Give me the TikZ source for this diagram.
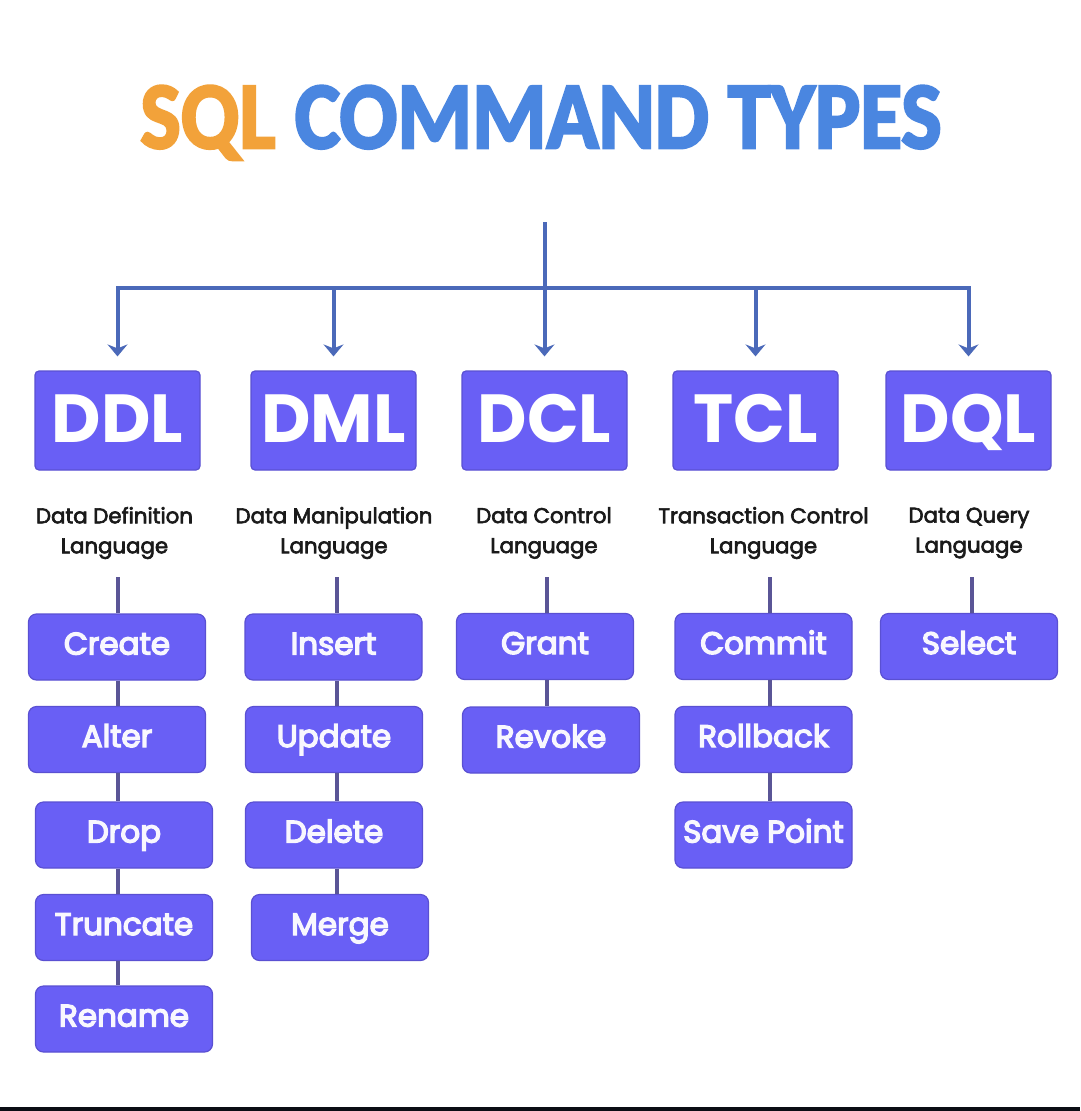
\documentclass[tikz,border=0pt]{standalone}
\usepackage{fontspec}
\setmainfont{Poppins}
\newfontfamily\titlefont[BoldFeatures={FakeBold=3}]{Carlito}
\newfontfamily\descfont[FakeBold=3]{Poppins}
\newfontfamily\itemfont[FakeBold=4.5]{Poppins}
\usetikzlibrary{arrows.meta}
\definecolor{boxblue}{HTML}{695FF5}
\definecolor{boxedge}{HTML}{5A50D2}
\definecolor{feedblue}{HTML}{4B69B9}
\definecolor{stemgray}{HTML}{5A5596}
\definecolor{sqlorange}{HTML}{F2A23A}
\definecolor{titleblue}{HTML}{4A86E0}
\definecolor{desctext}{HTML}{1A1A1A}
\definecolor{barblack}{HTML}{0B0D14}
\tikzset{>={Stealth[length=12pt,width=20pt,inset=4pt]}}
\tikzset{
  cmdbox/.style={draw=boxedge, fill=boxblue, line width=1.2pt, rounded corners=4pt,
    minimum width=165pt, minimum height=99pt, inner sep=0pt, text=white,
    text height=47pt, text depth=3pt, font=\fontsize{68}{68}\selectfont\bfseries},
  itembox/.style={draw=boxedge, fill=boxblue, line width=1.2pt, rounded corners=8pt,
    minimum width=177pt, minimum height=66pt, inner sep=0pt, text=white!95!boxblue,
    text height=21pt, text depth=6pt, font=\fontsize{31}{31}\selectfont\itemfont},
  desc/.style={align=center, inner sep=0pt, text=desctext, font=\fontsize{21.3}{30}\selectfont\descfont},
  feed/.style={line width=4pt, draw=feedblue, ->, shorten >=14pt},
  stem/.style={line width=4pt, draw=stemgray},
}

\begin{document}
\begin{tikzpicture}[x=1pt,y=-1pt]
    \useasboundingbox (0,0) rectangle (1080,1111);
    \fill[white] (0,0) rectangle (1080,1111);
    \fill[barblack] (0,1107) rectangle (1080,1111);

    \node[anchor=base, inner sep=0pt, xscale=0.9, font=\fontsize{95}{95}\selectfont\titlefont\bfseries] (title) at (541,148)
      {\textcolor{sqlorange}{SQL} \textcolor{titleblue}{COMMAND TYPES}};

    % command groups
    \node[cmdbox] at (117.5,420.5) (ddl) {DDL};
    \node[cmdbox] at (333.5,420.5) (dml) {DML};
    \node[cmdbox] at (544.5,420.5) (dcl) {DCL};
    \node[cmdbox] at (755.5,420.5) (tcl) {TCL};
    \node[cmdbox] at (968.5,420.5) (dql) {DQL};

    \coordinate (src) at (dcl.north |- 0,222);
    \coordinate (hub) at (dcl.north |- 0,288);
    \draw[feed] (src) -- (dcl.north);
    \draw[feed] (hub) -| (ddl.north);
    \draw[feed] (hub) -| (dql.north);
    \draw[feed] (hub -| dml.north) -- (dml.north);
    \draw[feed] (hub -| tcl.north) -- (tcl.north);

    \node[desc] at (114.5,533) (ddltxt) {Data Definition\\Language};
    \node[desc] at (334,533)   (dmltxt) {Data Manipulation\\Language};
    \node[desc] at (544,533)   (dcltxt) {Data Control\\Language};
    \node[desc] at (763.5,533) (tcltxt) {Transaction Control\\Language};
    \node[desc] at (969,533)   (dqltxt) {Data Query\\Language};

    % commands
    \node[itembox] at (117,647)    (create) {Create};
    \node[itembox] at (117,739.5)  (alter) {Alter};
    \node[itembox] at (124,835)    (drop) {Drop};
    \node[itembox] at (124,927.5)  (truncate) {Truncate};
    \node[itembox] at (124,1019)   (rename) {Rename};

    \node[itembox] at (333.5,647)  (insert) {Insert};
    \node[itembox] at (334,739.5)  (update) {Update};
    \node[itembox] at (334,835)    (delete) {Delete};
    \node[itembox] at (340,927.5)  (merge) {Merge};

    \node[itembox] at (545,646.5)  (grant) {Grant};
    \node[itembox] at (551,740)    (revoke) {Revoke};

    \node[itembox] at (763.5,646.5) (commit) {Commit};
    \node[itembox] at (763.5,739.5) (rollback) {Rollback};
    \node[itembox] at (763.5,835)   (savepoint) {Save Point};

    \node[itembox] at (969,646.5)  (select) {Select};

    % stems
    \coordinate (c1) at (118,577);
    \coordinate (c2) at (337,577);
    \coordinate (c3) at (547,577);
    \coordinate (c4) at (770,577);
    \coordinate (c5) at (972,577);
    \draw[stem] (c1) -- (c1 |- create.north);
    \draw[stem] (c2) -- (c2 |- insert.north);
    \draw[stem] (c3) -- (c3 |- grant.north);
    \draw[stem] (c4) -- (c4 |- commit.north);
    \draw[stem] (c5) -- (c5 |- select.north);
    \foreach \a/\b in {create/alter, alter/drop, drop/truncate, truncate/rename}
      \draw[stem] (c1 |- \a.south) -- (c1 |- \b.north);
    \foreach \a/\b in {insert/update, update/delete, delete/merge}
      \draw[stem] (c2 |- \a.south) -- (c2 |- \b.north);
    \draw[stem] (c3 |- grant.south) -- (c3 |- revoke.north);
    \foreach \a/\b in {commit/rollback, rollback/savepoint}
      \draw[stem] (c4 |- \a.south) -- (c4 |- \b.north);
\end{tikzpicture}
\end{document}
